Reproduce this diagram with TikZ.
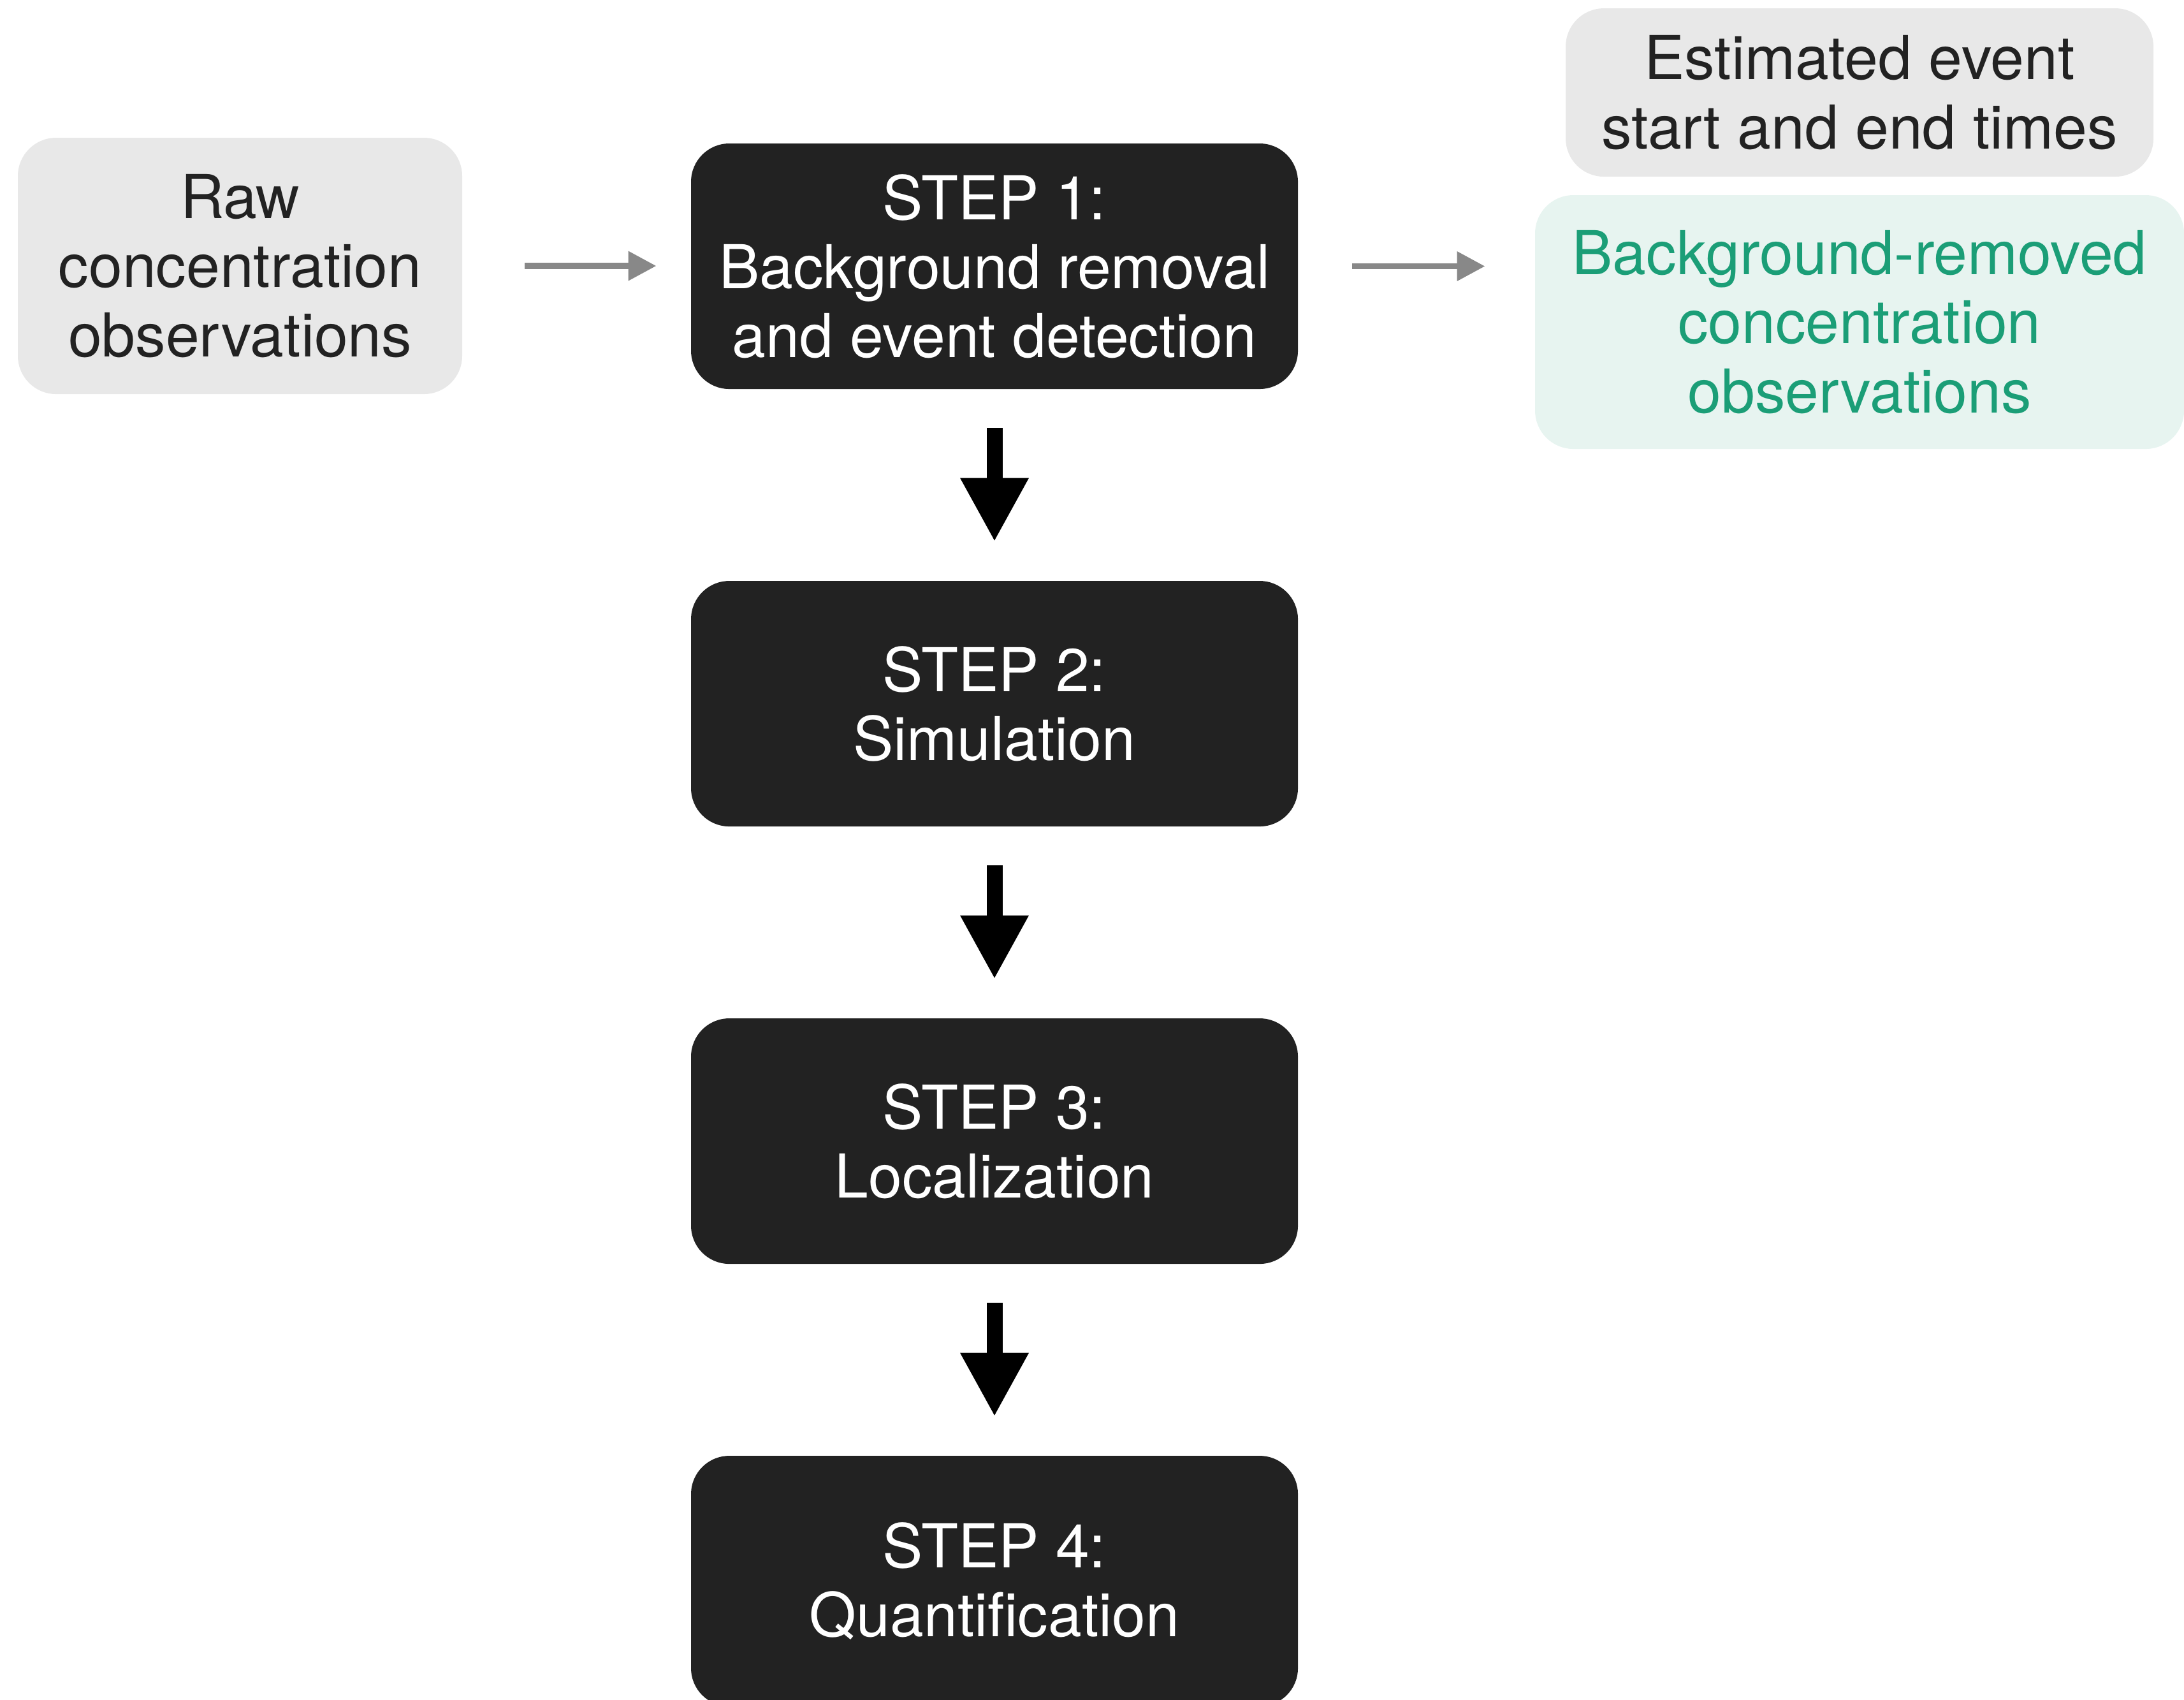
\documentclass[tikz,border=0pt]{standalone}
\usepackage{fontspec}
\setmainfont{TeX Gyre Heros}
\usepackage{tikz}
\usetikzlibrary{arrows.meta}

\definecolor{stepdark}{HTML}{222222}
\definecolor{inputgray}{HTML}{E8E8E8}
\definecolor{outgreen}{HTML}{1B9E77}
\definecolor{outfill}{HTML}{E7F4F0}
\definecolor{flowgray}{HTML}{888888}

\begin{document}
\begin{tikzpicture}[>=latex, font=\fontsize{13.5}{15.4}\selectfont,
	stepbox/.style={fill=stepdark, text=white, rounded corners=0.3cm, align=center, inner sep=0pt, minimum width=4.76cm, minimum height=1.925cm},
	databox/.style={fill=inputgray, text=stepdark, rounded corners=0.3cm, align=center, inner sep=0pt},
	resultbox/.style={fill=outfill, text=outgreen, rounded corners=0.3cm, align=center, inner sep=0pt},
	flow/.style={-{Triangle[width=0.22cm,length=0.22cm]}, flowgray, line width=1.4pt},
	stepflow/.style={-{Triangle[width=0.5cm,length=0.5cm]}, black, line width=0.125cm, shorten <=0.3cm, shorten >=0.3cm}]
	\useasboundingbox (0,0) rectangle (17.13,-13.325);
	%\draw [help lines] (0,0) grid (17,-13);
	% input and outputs
	\node [databox, minimum width=3.485cm, minimum height=2.01cm] (raw) at (1.8825,-2.085) {Raw\\concentration\\observations};
	\node [databox, minimum width=4.61cm, minimum height=1.32cm] (times) at (14.585,-0.725) {Estimated event\\start and end times};
	\node [resultbox, minimum width=5.09cm, minimum height=1.99cm] (cleaned) at (14.585,-2.525) {Background-removed\\concentration\\observations};
	% the four steps (the last one runs off the bottom edge)
	\node [stepbox] (step1) at (7.8,-2.0875) {STEP 1:\\Background removal\\and event detection};
	\node [stepbox] (step2) at (7.8,-5.5175) {STEP 2:\\Simulation};
	\node [stepbox] (step3) at (7.8,-8.9475) {STEP 3:\\Localization};
	\node [stepbox, minimum height=1.965cm] (step4) at (7.8,-12.3975) {STEP 4:\\Quantification};
	% connectors
	\draw [flow, shorten <=0.485cm, shorten >=0.265cm] (raw.east) -- (raw.east -| step1.west);
	\draw [flow, shorten <=0.42cm, shorten >=0.385cm] (step1.east) -- (step1.east -| cleaned.west);
	\draw [stepflow] (step1) -- (step2);
	\draw [stepflow] (step2) -- (step3);
	\draw [stepflow] (step3) -- (step4);
\end{tikzpicture}
\end{document}
